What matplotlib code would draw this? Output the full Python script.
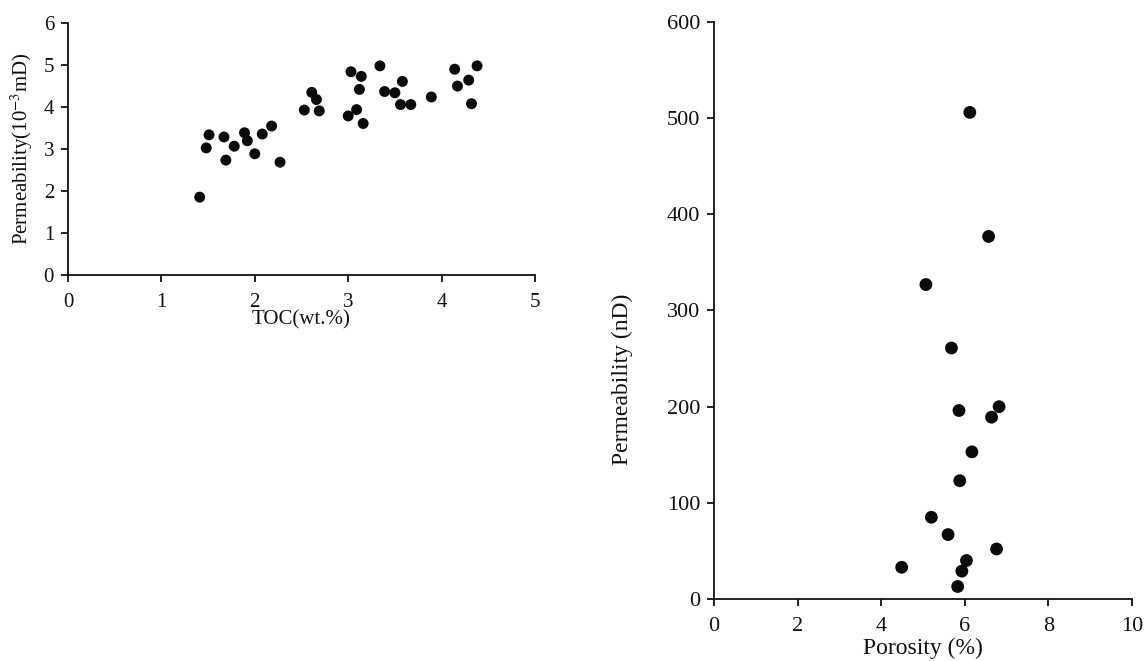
import matplotlib
matplotlib.use("Agg")
import matplotlib.pyplot as plt

plt.rcParams['font.family'] = ['Liberation Serif', 'DejaVu Serif']
plt.rcParams['mathtext.fontset'] = 'stix'

# Left panel: TOC vs permeability
toc = [1.41, 1.48, 1.51, 1.67, 1.69, 1.78, 1.89, 1.92, 2.00, 2.08, 2.18, 2.27,
       2.53, 2.61, 2.66, 2.69, 3.00, 3.03, 3.09, 3.12, 3.14, 3.16, 3.34, 3.39,
       3.50, 3.56, 3.58, 3.67, 3.89, 4.14, 4.17, 4.29, 4.32, 4.38]
perm_md = [1.85, 3.02, 3.33, 3.28, 2.73, 3.06, 3.38, 3.19, 2.88, 3.35, 3.54, 2.68,
           3.92, 4.34, 4.17, 3.90, 3.78, 4.83, 3.93, 4.41, 4.72, 3.60, 4.97, 4.36,
           4.33, 4.05, 4.60, 4.05, 4.23, 4.89, 4.49, 4.63, 4.07, 4.97]

# Right panel: porosity vs permeability
porosity = [6.12, 6.57, 5.07, 5.68, 5.86, 6.82, 6.64, 6.17, 5.88, 5.20, 5.60,
            6.76, 6.04, 4.49, 5.93, 5.83]
perm_nd = [506, 377, 327, 261, 196, 200, 189, 153, 123, 85, 67, 52, 40, 33, 29, 13]

left_xticks = [0, 1, 2, 3, 4, 5]
left_yticks = [0, 1, 2, 3, 4, 5, 6]
right_xticks = [0, 2, 4, 6, 8, 10]
right_yticks = [0, 100, 200, 300, 400, 500, 600]

W, H = 1146, 661
fig = plt.figure(figsize=(W / 100, H / 100), dpi=100)
ax1 = fig.add_axes([68 / W, 1 - 275 / H, (535 - 68) / W, (275 - 22.5) / H])
ax2 = fig.add_axes([714 / W, 1 - 599 / H, (1132 - 714) / W, (599 - 22) / H])

def style(ax, fs):
    for s in ['top', 'right']:
        ax.spines[s].set_visible(False)
    for s in ['left', 'bottom']:
        ax.spines[s].set_linewidth(1.3)
        ax.spines[s].set_color('#111111')
    ax.tick_params(direction='out', length=5, width=1.3, labelsize=fs,
                   colors='#111111')
    ax.tick_params(axis='x', pad=8)
    ax.tick_params(axis='y', pad=5)

ax1.scatter(toc, perm_md, s=62, color='#0a0a0a', edgecolors='none', zorder=3, clip_on=False)
ax1.set_xlim(0, 5)
ax1.set_ylim(0, 6)
ax1.set_xticks(left_xticks)
ax1.set_yticks(left_yticks)
style(ax1, 15)
ax1.set_xlabel('TOC(wt.%)', fontsize=15, labelpad=-1, color='#111111')
ax1.set_ylabel('Permeability(10$^{-3}$mD)', fontsize=15, labelpad=6, color='#111111')

ax2.scatter(porosity, perm_nd, s=85, color='#0a0a0a', edgecolors='none', zorder=3, clip_on=False)
ax2.set_xlim(0, 10)
ax2.set_ylim(0, 600)
ax2.set_xticks(right_xticks)
ax2.set_yticks(right_yticks)
style(ax2, 16)
ax2.set_xlabel('Porosity (%)', fontsize=17, labelpad=1, color='#111111')
ax2.set_ylabel('Permeability (nD)', fontsize=17, color='#111111')
ax2.yaxis.set_label_coords((633 - 714) / 418, 0.38)

fig.savefig('out.png', dpi=100)
